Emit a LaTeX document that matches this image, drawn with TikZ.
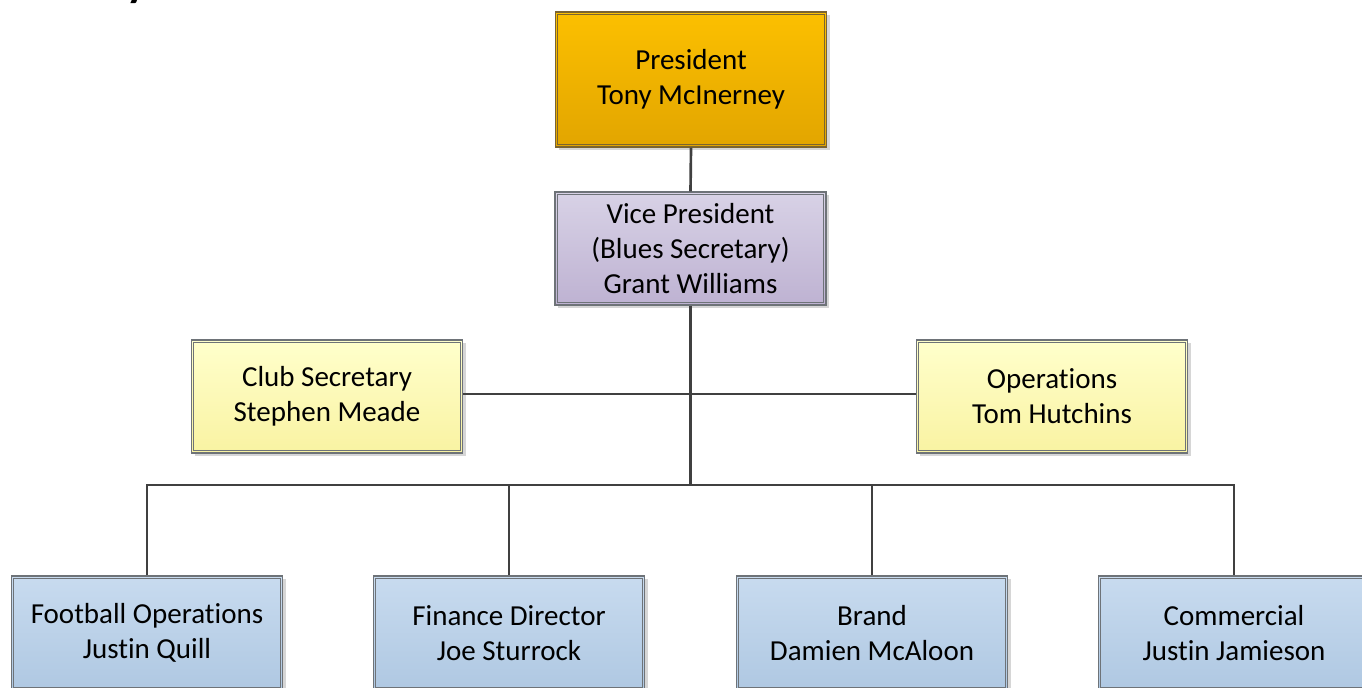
\documentclass[tikz,border=0pt]{standalone}
\usepackage{fontspec}
\setmainfont{Carlito}[RawFeature={-liga;-clig;-calt;-dlig;-rlig}]
\usetikzlibrary{shadows}
\definecolor{presTop}{HTML}{FCC000}
\definecolor{presBot}{HTML}{E2A500}
\definecolor{presLine}{HTML}{7A6430}
\definecolor{vpTop}{HTML}{D8D2E6}
\definecolor{vpBot}{HTML}{BEB2D2}
\definecolor{ylTop}{HTML}{FFFFCC}
\definecolor{ylBot}{HTML}{F9F3A2}
\definecolor{blTop}{HTML}{C8DBEF}
\definecolor{blBot}{HTML}{AFC8E2}
\definecolor{bordCol}{HTML}{6E7378}
\definecolor{connCol}{HTML}{404040}
\begin{document}
\begin{tikzpicture}[x=0.75pt,y=-0.75pt,
  box/.style={rectangle, draw=bordCol, line width=0.9pt,
    minimum width=203.25pt, minimum height=84.75pt, inner sep=0pt,
    align=center, font=\fontsize{21.75}{26.25}\selectfont,
    drop shadow={shadow xshift=2.5pt, shadow yshift=-2.5pt, fill=black!16, opacity=1}},
  presbox/.style={box, draw=presLine, top color=presTop, bottom color=presBot, minimum height=101.25pt},
  vpbox/.style={box, top color=vpTop, bottom color=vpBot},
  ylbox/.style={box, top color=ylTop, bottom color=ylBot},
  blbox/.style={box, top color=blTop, bottom color=blBot, minimum height=85.5pt},
  innerline/.style={draw=bordCol, line width=0.7pt},
  conn/.style={draw=connCol, line width=2pt}]
\useasboundingbox (0,0) rectangle (1362,688);
\begin{scope}
\clip (0,0) rectangle (1362,688);
\node[anchor=base, font=\bfseries\fontsize{34}{34}\selectfont] (frag) at (137,-3) {y};
\coordinate (bus) at (690.5,485);
\coordinate (mid) at (690.5,394);
\node[presbox] (pres) at (691,79.5) {President\\Tony McInerney};
\node[vpbox] (vp) at (690.5,248.5) {Vice President\\(Blues Secretary)\\Grant Williams};
\node[ylbox] (club) at (327,396.5) {Club Secretary\\Stephen Meade};
\node[ylbox] (ops) at (1052,396.5) {Operations\\Tom Hutchins};
\node[blbox] (fo) at (147,633) {Football Operations\\Justin Quill};
\node[blbox] (fi) at (509,633) {Finance Director\\Joe Sturrock};
\node[blbox] (br) at (872,633) {Brand\\Damien McAloon};
\node[blbox] (co) at (1234,633) {Commercial\\Justin Jamieson};
\foreach \n in {vp,club,ops,fo,fi,br,co}
  \draw[innerline] ([shift={(3,3)}]\n.north west) rectangle ([shift={(-3,-3)}]\n.south east);
\draw[innerline, draw=presLine] ([shift={(3,3)}]pres.north west) rectangle ([shift={(-3,-3)}]pres.south east);
\draw[conn] (pres.south) -- (vp.north);
\draw[conn] (vp.south) -- (bus);
\draw[conn] (club.east |- mid) -- (ops.west |- mid);
\draw[conn] (fo.north) |- (bus) -| (co.north);
\draw[conn] (fi.north) -- (fi.north |- bus);
\draw[conn] (br.north) -- (br.north |- bus);
\end{scope}
\end{tikzpicture}
\end{document}
